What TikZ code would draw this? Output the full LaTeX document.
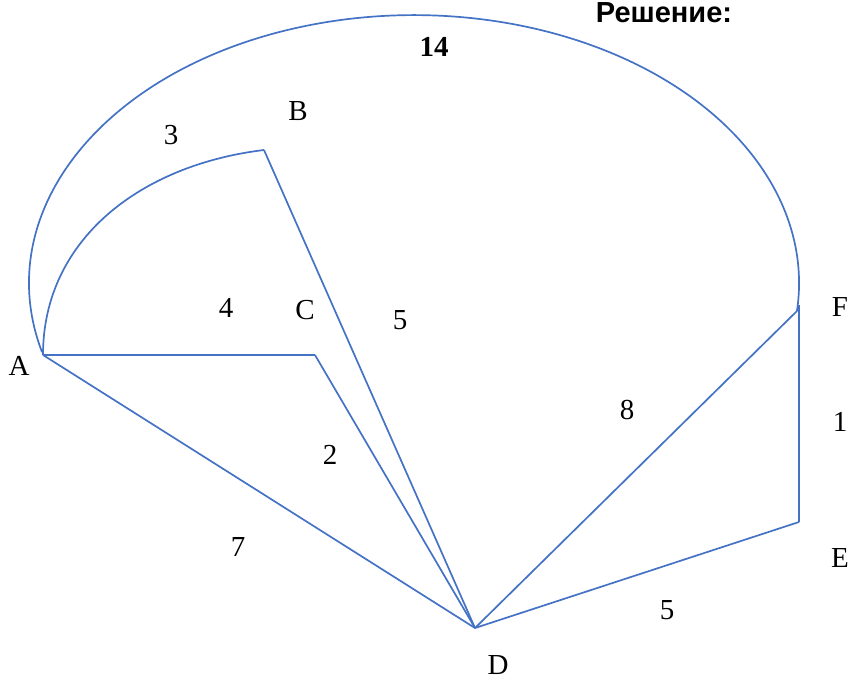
\documentclass[tikz,border=0pt]{standalone}
\usepackage{fontspec}
\setmainfont{Liberation Serif}
\newfontfamily\arialfont{Liberation Sans}
\begin{document}
\begin{tikzpicture}[x=1pt,y=-1pt,
  edge/.style={draw={rgb,255:red,68;green,114;blue,196},line width=1.7pt},
  lbl/.style={inner sep=0pt,font=\fontsize{29}{29}\selectfont}]
\useasboundingbox (0,0) rectangle (853,682);
\coordinate (A) at (43,355);
\coordinate (B) at (264,150);
\coordinate (C) at (315,355);
\coordinate (D) at (475,628);
\coordinate (E) at (799,522);
\coordinate (F) at (797,311);
\coordinate (Ft) at (799,305);
\coordinate (Aa) at (42,352);
% outer arc A-F (14)
\draw[edge] (Aa) arc[start angle=165.1, end angle=366.0, x radius=385, y radius=268];
% inner arc A-B (3)
\draw[edge] (A) .. controls (43,240) and (140,165) .. (B);
\draw[edge] (A) -- (C);
\draw[edge] (C) -- (D);
\draw[edge] (B) -- (D);
\draw[edge] (A) -- (D);
\draw[edge] (D) -- (F);
\draw[edge] (D) -- (E);
\draw[edge] (E) -- (Ft);
% labels
\node[lbl] (lA) at (19,366) {A};
\node[lbl] (lB) at (298,111) {B};
\node[lbl] (lC) at (305,310) {C};
\node[lbl] (lD) at (498,665) {D};
\node[lbl] (lE) at (840,558) {E};
\node[lbl] (lF) at (840,307) {F};
\node[lbl,font=\fontsize{29}{29}\selectfont\bfseries] (w14) at (434,47) {14};
\node[lbl] (w3) at (171,135) {3};
\node[lbl] (w4) at (226,308) {4};
\node[lbl] (w5a) at (400,320) {5};
\node[lbl] (w8) at (627,410) {8};
\node[lbl] (w1) at (840,422) {1};
\node[lbl] (w2) at (330,455) {2};
\node[lbl] (w7) at (238,547) {7};
\node[lbl] (w5b) at (667,610) {5};
\node[inner sep=0pt,anchor=base,font=\arialfont\fontsize{29}{29}\selectfont\bfseries] (title) at (664,23) {Решение:};
\end{tikzpicture}
\end{document}
